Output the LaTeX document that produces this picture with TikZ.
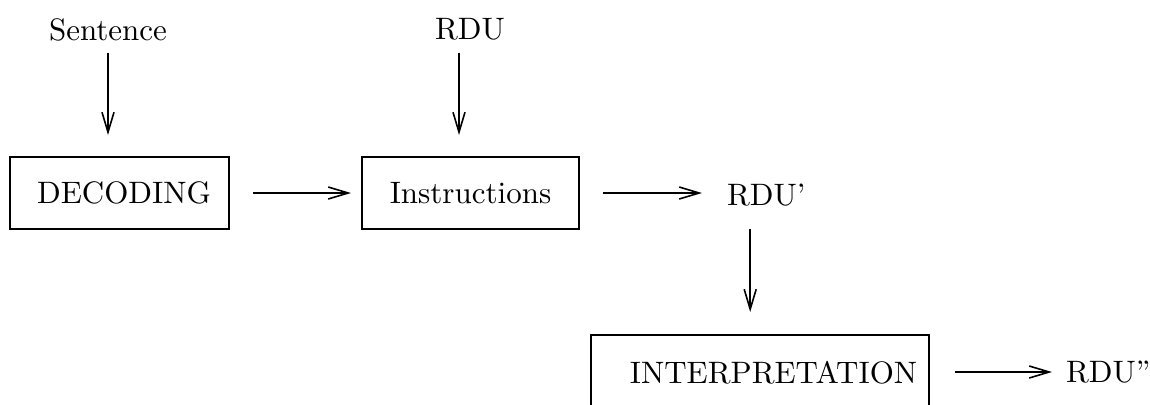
\documentclass[tikz,border=0pt]{standalone}
\usetikzlibrary{arrows.meta}
\newcommand{\sx}[1]{\scalebox{1.55}{#1}}
\begin{document}
\begin{tikzpicture}[x=0.5pt,y=-0.5pt,
  every node/.style={font=\fontsize{10}{12}\selectfont, inner sep=0pt, outer sep=0pt},
  txt/.style={anchor=base},
  boxnode/.style={draw, line width=0.8pt, minimum height=36pt},
  arr/.style={-{Straight Barb[length=10pt,width=6pt]}, line width=0.8pt}]
\clip (0,0) rectangle (1150,404);
% labels
\node[txt] (sent) at (108,40) {\sx{Sentence}};
\node[txt] (rdu) at (470,39) {\sx{RDU}};
\node[txt, anchor=base west] (rdup) at (727,205) {\sx{RDU'}};
\node[txt, anchor=base west] (rdupp) at (1066,382) {\sx{RDU''}};
% boxes
\node[boxnode, minimum width=109.5pt] (dec) at (119.5,193) {\hspace*{4.5pt}\sx{DECODING}};
\node[boxnode, minimum width=108.5pt] (ins) at (470.5,193) {\sx{Instructions}};
\node[boxnode, minimum width=169pt, minimum height=38pt] (interp) at (760,373) {\hspace*{13.5pt}\sx{INTERPRETATION}};
% connectors
\draw[arr, shorten <=6pt, shorten >=11pt] (sent.south) -- (sent.south |- dec.north);
\draw[arr, shorten <=6.5pt, shorten >=11pt] ([xshift=-5.5pt]rdu.south) -- ([xshift=-5.5pt]rdu.south |- ins.north);
\draw[arr, shorten <=12pt, shorten >=5.5pt] (dec.east) -- (ins.west);
\draw[arr, shorten <=12pt, shorten >=12.5pt] (ins.east) -- (ins.east -| rdup.west);
\draw[arr, shorten <=11.5pt, shorten >=11.5pt] ([xshift=-8pt]rdup.south) -- ([xshift=-8pt]rdup.south |- interp.north);
\draw[arr, shorten <=13pt, shorten >=7pt] ([yshift=0.5pt]interp.east) -- ([yshift=0.5pt]interp.east -| rdupp.west);
\end{tikzpicture}
\end{document}
